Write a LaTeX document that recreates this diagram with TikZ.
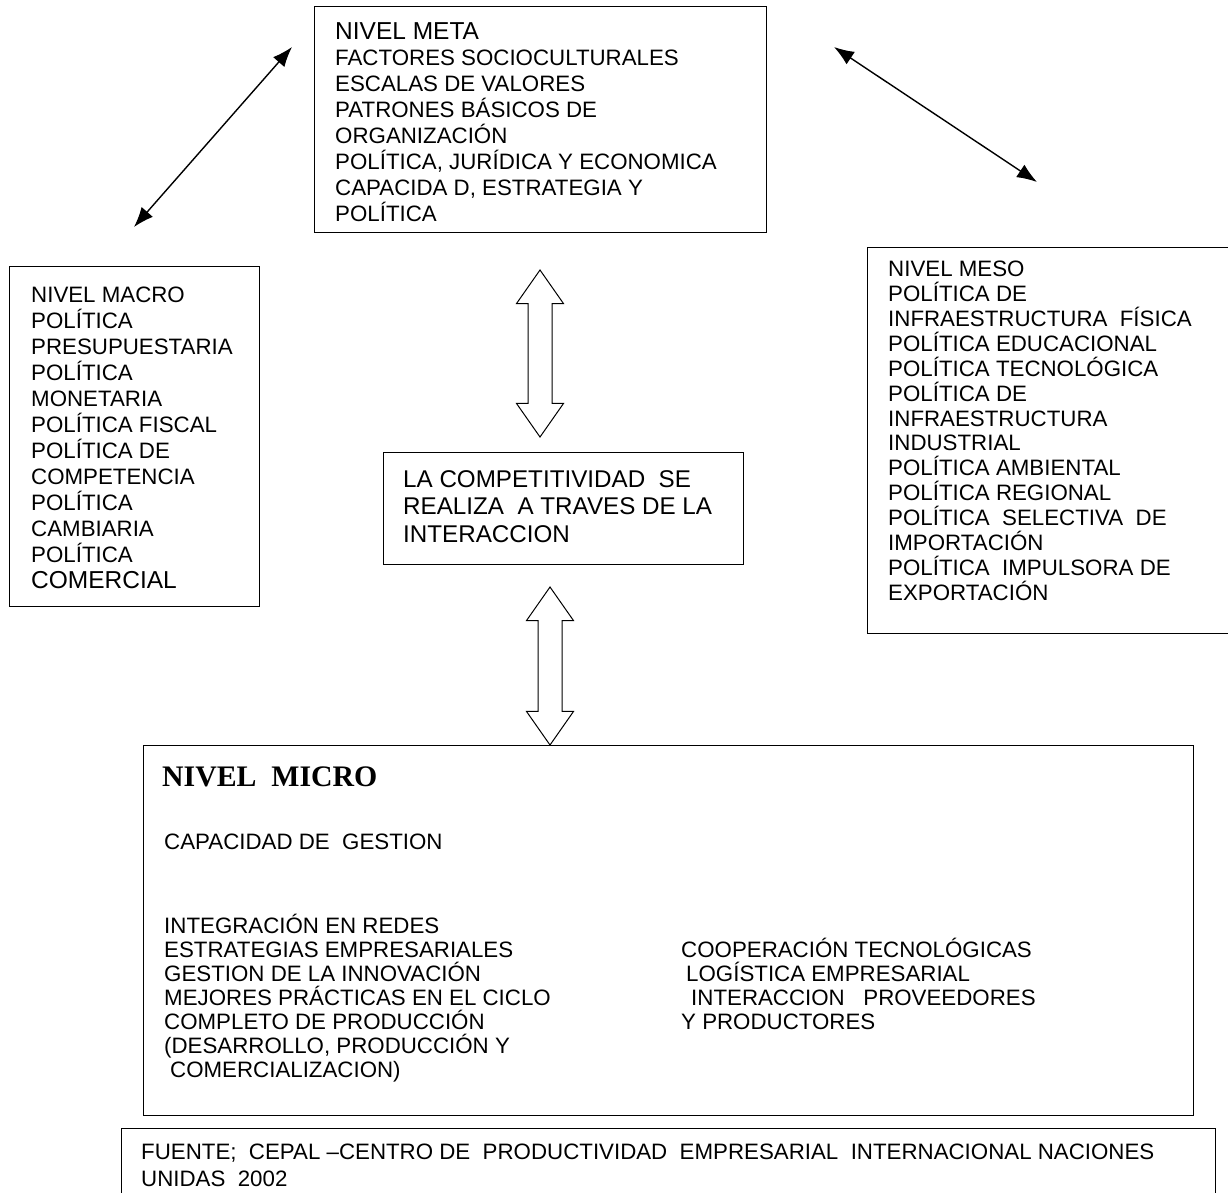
\documentclass[tikz,border=0pt]{standalone}
\usepackage{fontspec}
\newfontfamily\arialf{Liberation Sans}
\newfontfamily\timesf{Liberation Serif}
\usetikzlibrary{arrows.meta,shapes.arrows}

\begin{document}
\begin{tikzpicture}[
x=1pt, y=-1pt,
box/.style={
  draw,
  line width=1.2pt,
  anchor=north west,
  inner sep=0
  },
txt/.style={
  anchor=base west,
  inner sep=0,
  align=left,
  font=\arialf\fontsize{22.3}{26}\selectfont
  },
link/.style={
  {Latex[length=20pt,width=15pt]}-{Latex[length=20pt,width=15pt]},
  line width=1.4pt
  },
hollow/.style={
  draw,
  line width=1pt,
  double arrow,
  rotate=90,
  double arrow tip angle=70,
  double arrow head extend=11.5pt,
  inner xsep=0,
  inner ysep=11.5pt,
  minimum height=#1
  }]
\useasboundingbox (0,0) rectangle (1228,1192);

\node[box, minimum width=452, minimum height=226] (meta) at (314,6) {};
\node[box, minimum width=250, minimum height=340] (macro) at (9,266) {};
\node[box, minimum width=362, minimum height=386] (meso) at (867,247) {};
\node[box, minimum width=360, minimum height=112] (center) at (383,452) {};
\node[box, minimum width=1050, minimum height=370] (micro) at (143,745) {};
\node[box, minimum width=1094, minimum height=80] (fuente) at (121,1128) {};

% text nodes sit on the baseline of their last line
\node[txt] (metatxt) at (335,221) {{\fontsize{24.5}{28}\selectfont NIVEL META}\\
FACTORES SOCIOCULTURALES\\
ESCALAS DE VALORES\\
PATRONES BÁSICOS DE\\
ORGANIZACIÓN\\
POLÍTICA, JURÍDICA Y ECONOMICA\\
CAPACIDA D, ESTRATEGIA Y\\
POLÍTICA};

\node[txt] (macrotxt) at (31,588) {NIVEL MACRO\\
POLÍTICA\\
PRESUPUESTARIA\\
POLÍTICA\\
MONETARIA\\
POLÍTICA FISCAL\\
POLÍTICA DE\\
COMPETENCIA\\
POLÍTICA\\
CAMBIARIA\\
POLÍTICA\\
{\fontsize{24.5}{26}\selectfont COMERCIAL}};

\node[txt, font=\arialf\fontsize{22.3}{24.85}\selectfont] (mesotxt) at (888,600) {NIVEL MESO\\
POLÍTICA DE\\
INFRAESTRUCTURA~ FÍSICA\\
POLÍTICA EDUCACIONAL\\
POLÍTICA TECNOLÓGICA\\
POLÍTICA DE\\
INFRAESTRUCTURA\\
INDUSTRIAL\\
POLÍTICA AMBIENTAL\\
POLÍTICA REGIONAL\\
POLÍTICA~ SELECTIVA~ DE\\
IMPORTACIÓN\\
POLÍTICA~ IMPULSORA DE\\
EXPORTACIÓN};

\node[txt, font=\arialf\fontsize{24.2}{27.5}\selectfont] (centertxt) at (403,542) {LA COMPETITIVIDAD~ SE\\
REALIZA~ A TRAVES DE LA\\
INTERACCION};

\node[txt, font=\timesf\bfseries\fontsize{29.8}{34}\selectfont] (microhead) at (162,786) {NIVEL~ MICRO};

\node[txt, font=\arialf\fontsize{22.3}{24}\selectfont] (microleft) at (164,1077) {CAPACIDAD DE~ GESTION\\[60pt]
INTEGRACIÓN EN REDES\\
ESTRATEGIAS EMPRESARIALES\\
GESTION DE LA INNOVACIÓN\\
MEJORES PRÁCTICAS EN EL CICLO\\
COMPLETO DE PRODUCCIÓN\\
(DESARROLLO, PRODUCCIÓN Y\\
\hspace*{6pt}COMERCIALIZACION)};

\node[txt, font=\arialf\fontsize{22.3}{24}\selectfont] (microright) at (681,1029) {COOPERACIÓN TECNOLÓGICAS\\
\hspace*{5pt}LOGÍSTICA EMPRESARIAL\\
\hspace*{10pt}INTERACCION~~ PROVEEDORES\\
Y PRODUCTORES};

\node[txt, font=\arialf\fontsize{22.3}{27}\selectfont] (fuentetxt) at (141,1186) {FUENTE;~ CEPAL –CENTRO DE~ PRODUCTIVIDAD~ EMPRESARIAL~ INTERNACIONAL NACIONES\\
UNIDAS~ 2002};

\coordinate (macrolink) at (134,227);
\coordinate (metalinkl) at (292,47);
\coordinate (metalinkr) at (834,47);
\coordinate (mesolink) at (1037,182);
\draw[link] (macrolink) -- (metalinkl);
\draw[link] (metalinkr) -- (mesolink);

\node[hollow=167] (updown) at (540,353.5) {};
\node[hollow=158] (downup) at (550,666) {};

\end{tikzpicture}
\end{document}
